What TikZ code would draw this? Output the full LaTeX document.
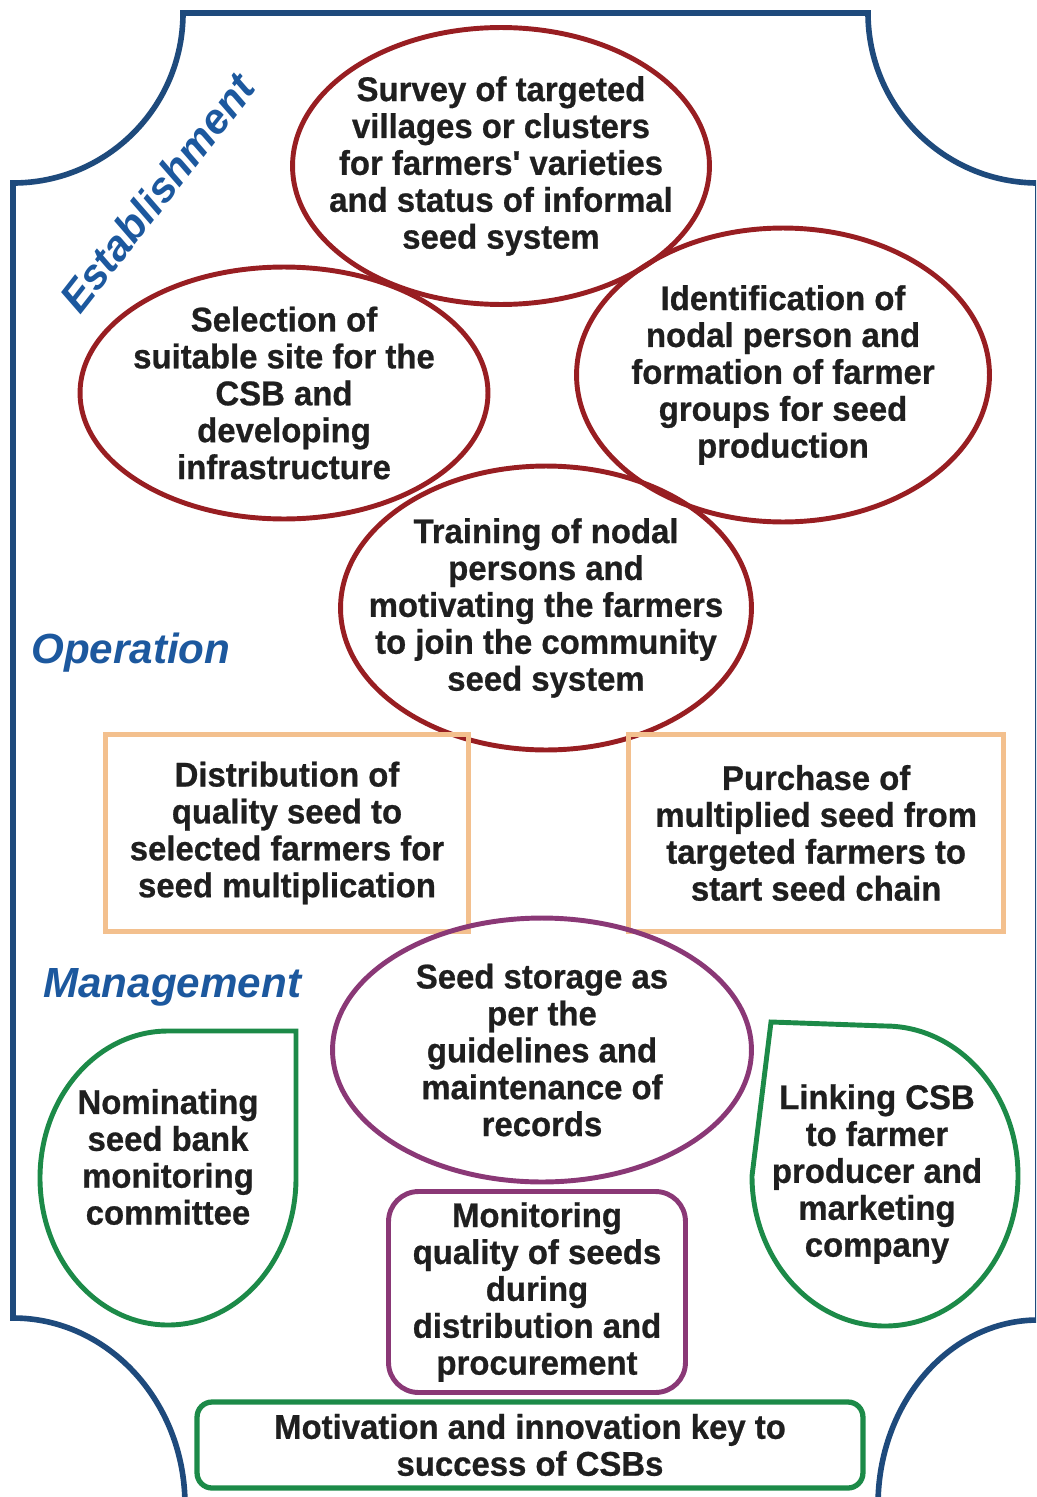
\documentclass[tikz,border=0pt]{standalone}
\usepackage{fontspec}
\setmainfont{Liberation Sans}
\newfontfamily\tallfont[FakeStretch=0.96, BoldFeatures={FakeBold=0.7}]{Liberation Sans}
\usepackage{tikz}
\usetikzlibrary{shapes,positioning}

\definecolor{frameblue}{RGB}{30,74,124}
\definecolor{stageblue}{RGB}{28,88,158}
\definecolor{ovalred}{RGB}{152,30,34}
\definecolor{boxorange}{RGB}{243,192,142}
\definecolor{monpurple}{RGB}{138,56,118}
\definecolor{leafgreen}{RGB}{28,138,72}
\newcommand{\tightlines}{\lineskiplimit=-30pt\relax}

\begin{document}
\begin{tikzpicture}[x=0.02cm, y=-0.02cm]
  \tikzstyle{stage} = [font=\fontsize{24}{26}\selectfont\bfseries\itshape, text=stageblue, inner sep=0pt]
  \tikzstyle{task} = [font=\tallfont\fontsize{19.5}{21}\selectfont\bfseries\tightlines, align=center, text=black!88, inner sep=0pt]
  \tikzstyle{oval} = [ellipse, line width=2.8pt, inner sep=0pt]
  \tikzstyle{block} = [task, rectangle, draw=boxorange, line width=3pt]
  \tikzstyle{leaf} = [draw=leafgreen, line width=2.8pt]
  \tikzstyle{frame} = [draw=frameblue, line width=3.2pt]

  \useasboundingbox (0,0) rectangle (1036,1497);
  \clip (0,0) rectangle (1036,1497);

  % frame with the cut-out corners
  \draw[frame] (183,13) -- (868,13) arc[start angle=180, end angle=90, radius=170]
    -- (1038,1320) arc[start angle=270, end angle=180, x radius=160, y radius=185]
    -- (185,1505) arc[start angle=0, end angle=-90, x radius=172, y radius=187]
    -- (13,183) arc[start angle=90, end angle=0, radius=170] -- cycle;

  \node[stage, rotate=52] (establish) at (157,193) {Establishment};
  \node[stage, anchor=base west] (operate) at (31,663) {Operation};
  \node[stage, anchor=base west] (manage) at (43,997) {Management};

  % establishment
  \node[oval, draw=ovalred, minimum width=8.34cm, minimum height=5.54cm,
    label={[task]center:{Survey of targeted\\villages or clusters\\for farmers' varieties\\and status of informal\\seed system}}] (survey) at (501,166) {};
  \node[oval, draw=ovalred, minimum width=8.16cm, minimum height=5.04cm,
    label={[task]center:{Selection of\\suitable site for the\\CSB and\\developing\\infrastructure}}] (site) at (284,393) {};
  \node[oval, draw=ovalred, minimum width=8.26cm, minimum height=5.88cm,
    label={[task]center:{Identification of\\nodal person and\\formation of farmer\\groups for seed\\production}}] (nodal) at (783,375) {};
  \node[oval, draw=ovalred, minimum width=8.22cm, minimum height=5.68cm,
    label={[task]center:{Training of nodal\\persons and\\motivating the farmers\\to join the community\\seed system}}] (training) at (546,608) {};

  % operation
  \node[block, minimum width=7.26cm, minimum height=3.94cm] (distrib) at (287,833) {Distribution of\\quality seed to\\selected farmers for\\seed multiplication};
  \node[block, minimum width=7.5cm, minimum height=3.94cm, right=3.1cm of distrib] (purchase) {Purchase of\\multiplied seed from\\targeted farmers to\\start seed chain};

  % management
  \node[oval, draw=monpurple, minimum width=8.38cm, minimum height=5.28cm,
    label={[task]center:{Seed storage as\\per the\\guidelines and\\maintenance of\\records}}] (storage) at (542,1050) {};
  \node[task, draw=monpurple, line width=2.8pt, rounded corners=0.6cm, minimum width=5.94cm, minimum height=4.02cm] (monitor) at (537,1292) {Monitoring\\quality of seeds\\during\\distribution and\\procurement};

  \draw[leaf] (168,1031) -- (296,1031) -- (296,1178) arc[start angle=0, end angle=270, x radius=128, y radius=147] -- cycle;
  \node[task] (nominate) at (168,1157) {Nominating\\seed bank\\monitoring\\committee};

  \draw[leaf] (771,1022) -- (752,1176) arc[start angle=180, end angle=-90, x radius=133, y radius=150] -- cycle;
  \node[task] (linking) at (877,1174) {Linking CSB\\to farmer\\producer and\\marketing\\company};

  \node[task, draw=leafgreen, line width=3pt, rounded corners=0.3cm, minimum width=13.32cm, minimum height=1.72cm] (motivate) at (530,1445) {Motivation and innovation key to\\success of CSBs};
\end{tikzpicture}
\end{document}
